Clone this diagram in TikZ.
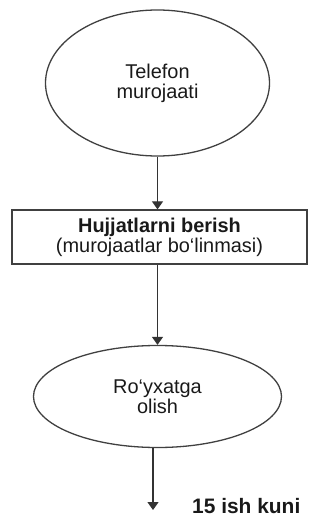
\documentclass[tikz,border=0pt]{standalone}
\usepackage{fontspec}
\setmainfont{Liberation Sans}
\usetikzlibrary{arrows.meta,shapes.geometric}
\begin{document}
\begin{tikzpicture}[x=1bp,y=-1bp,
  line/.style={draw=black!75, line width=1.3bp},
  arr/.style={draw=black!80, line width=1.3bp, -{Triangle[width=11bp,length=8bp]}},
  txt/.style={font=\fontsize{20}{20}\selectfont, align=center, text=black!90, inner sep=0pt}]
\useasboundingbox (0,0) rectangle (321,517);
\node[line, ellipse, minimum width=224bp, minimum height=146bp, txt] (e1) at (157.5,83) {Telefon\\murojaati};
\node[line, rectangle, minimum width=295bp, minimum height=54bp, txt] (r) at (159.5,237) {\textbf{Hujjatlarni berish}\\(murojaatlar bo‘linmasi)};
\node[line, ellipse, minimum width=248bp, minimum height=102bp, txt] (e2) at (157.5,396.5) {Ro‘yxatga\\olish};
\coordinate (end) at (153,510);
\node[anchor=base west, font=\fontsize{21}{21}\selectfont\bfseries, text=black!90, inner sep=0pt] (t) at (192,513) {15 ish kuni};
\draw[arr] (e1.south) -- (e1.south |- r.north);
\draw[arr] (e2.north |- r.south) -- (e2.north);
\draw[arr] (e2.south -| end) -- (end);
\end{tikzpicture}
\end{document}
